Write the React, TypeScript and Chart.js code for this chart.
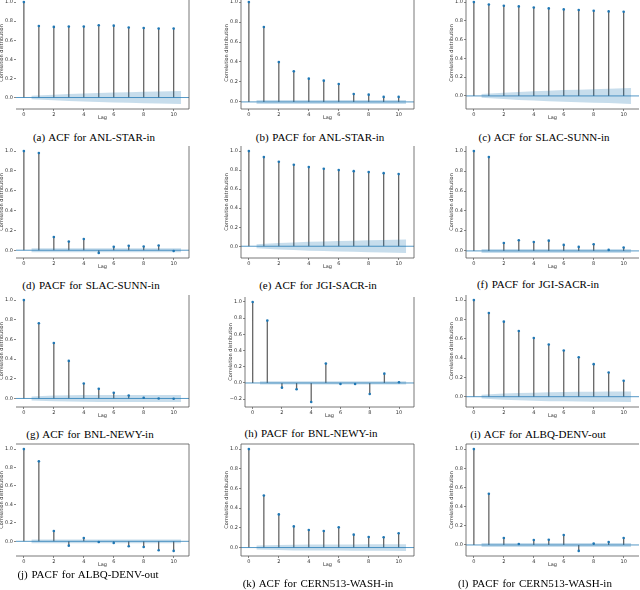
import React, { useEffect, useRef } from "react";
import { Chart, registerables } from "chart.js";

Chart.register(...registerables);

// ---------- data ----------
const lags = [0, 1, 2, 3, 4, 5, 6, 7, 8, 9, 10];
const bandLags = [0.5, 2, 3, 4, 5, 6, 7, 8, 9, 10.5];
const xTicks = [0, 2, 4, 6, 8, 10];
const yTicks = [0, 0.2, 0.4, 0.6, 0.8, 1.0];
const yTicksNeg = [-0.2, 0, 0.2, 0.4, 0.6, 0.8, 1.0];

const acfAnlStar = [1.0, 0.75, 0.74, 0.743, 0.743, 0.757, 0.753, 0.733, 0.729, 0.722, 0.722];
const bandAcfAnlStar = [0.018, 0.029, 0.036, 0.042, 0.047, 0.052, 0.056, 0.06, 0.063, 0.067];
const pacfAnlStar = [1.0, 0.751, 0.399, 0.306, 0.233, 0.213, 0.179, 0.08, 0.073, 0.05, 0.05];

const acfSlacSunn = [1.0, 0.975, 0.961, 0.954, 0.943, 0.933, 0.922, 0.915, 0.908, 0.901, 0.897];
const bandAcfSlacSunn = [0.02, 0.034, 0.043, 0.05, 0.056, 0.062, 0.067, 0.072, 0.076, 0.085];
const pacfSlacSunn = [1.0, 0.98, 0.134, 0.087, 0.114, -0.027, 0.034, 0.044, 0.037, 0.047, -0.007];

const acfJgiSacr = [1.0, 0.937, 0.888, 0.856, 0.832, 0.814, 0.8, 0.789, 0.779, 0.768, 0.758];
const bandAcfJgiSacr = [0.02, 0.033, 0.04, 0.046, 0.051, 0.055, 0.059, 0.063, 0.066, 0.07];
const pacfJgiSacr = [1.0, 0.94, 0.08, 0.107, 0.09, 0.103, 0.06, 0.04, 0.067, 0.01, 0.033];

const acfBnlNewy = [1.0, 0.764, 0.564, 0.382, 0.152, 0.098, 0.057, 0.03, 0.007, 0.0, -0.003];
const bandAcfBnlNewy = [0.02, 0.029, 0.032, 0.034, 0.035, 0.035, 0.035, 0.035, 0.035, 0.035];
const pacfBnlNewy = [1.0, 0.77, -0.058, -0.078, -0.235, 0.239, -0.012, -0.012, -0.136, 0.115, 0.008];

const acfAlbqDenv = [1.0, 0.866, 0.777, 0.68, 0.608, 0.54, 0.478, 0.409, 0.337, 0.251, 0.165];
const bandAcfAlbqDenv = [0.02, 0.032, 0.038, 0.042, 0.046, 0.048, 0.05, 0.052, 0.053, 0.054];
const pacfAlbqDenv = [1.0, 0.867, 0.112, -0.047, 0.036, -0.007, -0.018, -0.054, -0.061, -0.097, -0.104];

const acfCernWash = [1.0, 0.529, 0.337, 0.215, 0.178, 0.168, 0.205, 0.131, 0.108, 0.104, 0.145];
const bandAcfCernWash = [0.02, 0.026, 0.029, 0.03, 0.031, 0.031, 0.032, 0.033, 0.033, 0.034];
const pacfCernWash = [1.0, 0.533, 0.073, 0.01, 0.052, 0.055, 0.104, -0.062, 0.014, 0.031, 0.073];

const bandPacf = [0.02, 0.02, 0.02, 0.02, 0.02, 0.02, 0.02, 0.02, 0.02, 0.02];

const captions = [
  "(a) ACF for ANL-STAR-in",
  "(b) PACF for ANL-STAR-in",
  "(c) ACF for SLAC-SUNN-in",
  "(d) PACF for SLAC-SUNN-in",
  "(e) ACF for JGI-SACR-in",
  "(f) PACF for JGI-SACR-in",
  "(g) ACF for BNL-NEWY-in",
  "(h) PACF for BNL-NEWY-in",
  "(i) ACF for ALBQ-DENV-out",
  "(j) PACF for ALBQ-DENV-out",
  "(k) ACF for CERN513-WASH-in",
  "(l) PACF for CERN513-WASH-in",
];

const seriesList = [
  acfAnlStar, pacfAnlStar, acfSlacSunn,
  pacfSlacSunn, acfJgiSacr, pacfJgiSacr,
  acfBnlNewy, pacfBnlNewy, acfAlbqDenv,
  pacfAlbqDenv, acfCernWash, pacfCernWash,
];
const bandList = [
  bandAcfAnlStar, bandPacf, bandAcfSlacSunn,
  bandPacf, bandAcfJgiSacr, bandPacf,
  bandAcfBnlNewy, bandPacf, bandAcfAlbqDenv,
  bandPacf, bandAcfCernWash, bandPacf,
];

// ---------- layout ----------
const colLeft = [16, 241, 466];
const rowTop = [-3, 146, 295, 444];
const axW = 173;
const axH = 112;
const captionPos = [
  [94, 137], [320, 137], [544, 137],
  [91, 285], [318, 285], [538, 284],
  [90, 434], [311, 433], [538, 434],
  [88, 574], [318, 583], [535, 583],
];

const C0 = "rgb(31,119,180)";
const FONT = "DejaVu Sans";
const XMIN = -0.525;
const XMAX = 11.025;

const spinePlugin = {
  id: "spines",
  afterDraw(chart: any, _args: any, opts: any) {
    const { ctx, chartArea } = chart;
    const { left, right, top, bottom } = chartArea;
    ctx.save();
    ctx.strokeStyle = "#555";
    ctx.lineWidth = 0.8;
    ctx.beginPath();
    ctx.moveTo(left, bottom);
    ctx.lineTo(right, bottom);
    if (opts.left) {
      ctx.moveTo(left, top);
      ctx.lineTo(left, bottom);
    }
    if (opts.right) {
      ctx.moveTo(right, top);
      ctx.lineTo(right, bottom);
    }
    if (opts.top) {
      ctx.moveTo(left, top);
      ctx.lineTo(right, top);
    }
    ctx.stroke();
    ctx.restore();
  },
};

function fmtY(v: number) {
  const s = Math.abs(v).toFixed(1);
  return v < -1e-9 ? "\u2212" + s : s;
}

type PanelProps = { idx: number };

function Panel({ idx }: PanelProps) {
  const ref = useRef<HTMLCanvasElement | null>(null);
  const row = Math.floor(idx / 3);
  const col = idx % 3;
  const isH = idx === 7;
  const L = isH ? 245 : colLeft[col];
  const W = isH ? 169 : axW;
  const T = isH ? 297 : rowTop[row];
  const H = isH ? 110 : axH;
  const cw = Math.ceil(W + 28);
  const ch = H + 22;
  const padR = cw - 22 - W;

  useEffect(() => {
    const values = seriesList[idx];
    const band = bandList[idx];
    const dmin = Math.min(...values, ...band.map((b) => -b));
    const dmax = Math.max(...values, ...band);
    const span = dmax - dmin;
    const ymin = dmin - 0.05 * span;
    const ymax = dmax + 0.05 * span;
    const yt = dmin < -0.2 ? yTicksNeg : yTicks;

    const stems: any[] = [];
    lags.forEach((l, i) => {
      stems.push({ x: l, y: 0 }, { x: l, y: values[i] }, { x: l, y: null });
    });

    const chart = new Chart(ref.current as HTMLCanvasElement, {
      type: "line",
      data: {
        datasets: [
          {
            data: lags.map((l, i) => ({ x: l, y: values[i] })),
            showLine: false,
            pointRadius: 1.3,
            pointBackgroundColor: C0,
            pointBorderWidth: 0,
            borderColor: C0,
          },
          {
            data: [{ x: XMIN, y: 0 }, { x: XMAX, y: 0 }],
            borderColor: "rgba(31,119,180,0.85)",
            borderWidth: 0.9,
            pointRadius: 0,
          },
          {
            data: bandLags.map((l, i) => ({ x: l, y: band[i] })),
            borderColor: "rgba(0,0,0,0)",
            borderWidth: 1,
            pointRadius: 0,
            fill: "+1",
            backgroundColor: "rgba(31,119,180,0.25)",
          },
          {
            data: bandLags.map((l, i) => ({ x: l, y: -band[i] })),
            borderColor: "rgba(0,0,0,0)",
            borderWidth: 1,
            pointRadius: 0,
            fill: false,
          },
          {
            data: stems,
            borderColor: "rgba(85,85,85,0.9)",
            borderWidth: 1.3,
            pointRadius: 0,
            spanGaps: false,
          },
        ],
      },
      options: {
        responsive: false,
        animation: false,
        events: [],
        layout: { padding: { left: 5, top: 6, right: padR, bottom: 4 } },
        plugins: {
          legend: { display: false },
          tooltip: { enabled: false },
          spines: { left: col !== 0, right: col !== 2, top: row === 3 },
        } as any,
        scales: {
          x: {
            type: "linear",
            min: XMIN,
            max: XMAX,
            afterFit: (s: any) => {
              s.height = 12;
            },
            afterBuildTicks: (s: any) => {
              s.ticks = xTicks.map((v) => ({ value: v }));
            },
            grid: { drawOnChartArea: false, drawTicks: true, tickLength: 2, color: "#555", lineWidth: 0.7 },
            border: { display: false },
            ticks: {
              font: { family: FONT, size: 5 },
              color: "#333",
              padding: 0.5,
              maxRotation: 0,
              autoSkip: false,
              callback: (v: any) => String(v),
            },
            title: { display: true, text: "Lag", font: { family: FONT, size: 5 }, color: "#333", padding: 0 },
          },
          y: {
            type: "linear",
            min: ymin,
            max: ymax,
            afterFit: (s: any) => {
              s.width = 17;
            },
            afterBuildTicks: (s: any) => {
              s.ticks = yt.map((v) => ({ value: v }));
            },
            grid: { drawOnChartArea: false, drawTicks: true, tickLength: 2, color: "#555", lineWidth: 0.7 },
            border: { display: false },
            ticks: {
              font: { family: FONT, size: 5 },
              color: "#333",
              padding: 1,
              autoSkip: false,
              callback: (v: any) => fmtY(Number(v)),
            },
            title: {
              display: true,
              text: "Correlation distribution",
              font: { family: FONT, size: 5 },
              color: "#333",
              padding: 0,
            },
          },
        },
      },
      plugins: [spinePlugin as any],
    });
    return () => chart.destroy();
  }, [idx]);

  const [cx, cy] = captionPos[idx];
  return (
    <>
      <canvas
        ref={ref}
        width={cw}
        height={ch}
        style={{ position: "absolute", left: L - 22, top: T - 6, width: cw, height: ch }}
      />
      <div
        style={{
          position: "absolute",
          left: cx - 110,
          top: cy - 7,
          width: 220,
          textAlign: "center",
          fontFamily: "'Liberation Serif', 'Times New Roman', serif",
          fontSize: 11,
          lineHeight: "14px",
          wordSpacing: 1,
          whiteSpace: "nowrap",
          color: "#000",
        }}
      >
        {captions[idx]}
      </div>
    </>
  );
}

export default function App() {
  return (
    <div
      style={{
        position: "absolute",
        left: 0,
        top: 0,
        width: 640,
        height: 590,
        overflow: "hidden",
        background: "#fff",
      }}
    >
      {captions.map((_, i) => (
        <Panel key={i} idx={i} />
      ))}
    </div>
  );
}
